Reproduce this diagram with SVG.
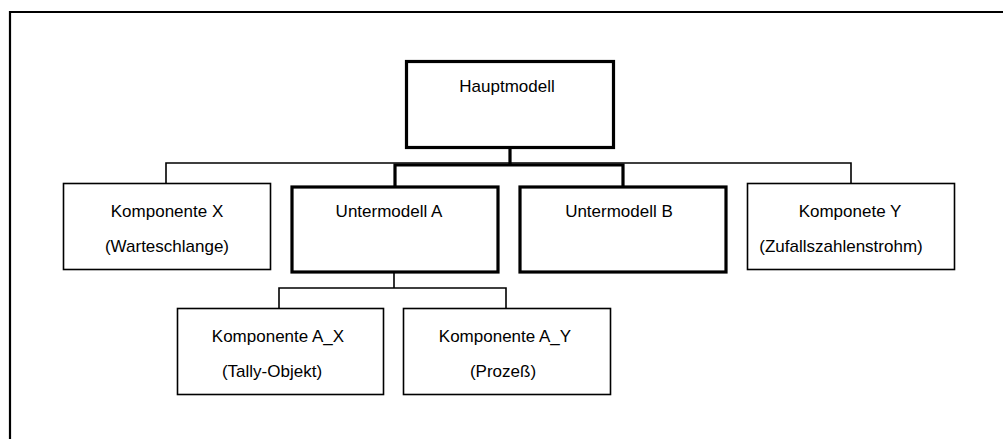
<svg xmlns="http://www.w3.org/2000/svg" width="1003" height="439" viewBox="0 0 1003 439">
<style>
text{font-family:"Liberation Sans",Arial,sans-serif;font-size:17px;fill:#000;text-anchor:middle}
.thin{fill:#fff;stroke:#000;stroke-width:1.6}
.thick{fill:#fff;stroke:#000;stroke-width:3.2}
.cthin{fill:none;stroke:#000;stroke-width:1.6}
.cthick{fill:none;stroke:#000;stroke-width:3.2}
</style>
<rect width="1003" height="439" fill="#fff"/>
<path d="M10,440 V12 H1003" fill="none" stroke="#000" stroke-width="2.2"/>
<g id="connectors">
<path class="cthin" d="M166,183 V163 H851 V183"/>
<path class="cthick" d="M510,149 V165 M395,186 V165 H623 V186"/>
<path class="cthin" d="M394,273 V288 M279,308 V288 H506 V308"/>
</g>
<g id="hauptmodell">
<rect class="thick" x="406.5" y="61.5" width="207" height="86"/>
<text x="507" y="92">Hauptmodell</text>
</g>
<g id="komponenteX">
<rect class="thin" x="63.5" y="183.5" width="207" height="86"/>
<text x="167" y="217">Komponente X</text>
<text x="167" y="252">(Warteschlange)</text>
</g>
<g id="untermodellA">
<rect class="thick" x="292" y="187" width="206" height="85"/>
<text x="389" y="217">Untermodell A</text>
</g>
<g id="untermodellB">
<rect class="thick" x="520" y="187" width="206" height="85"/>
<text x="619" y="217">Untermodell B</text>
</g>
<g id="komponeteY">
<rect class="thin" x="747.5" y="183.5" width="207" height="86"/>
<text x="850" y="217">Komponete Y</text>
<text x="841" y="252">(Zufallszahlenstrohm)</text>
</g>
<g id="komponenteAX">
<rect class="thin" x="177.5" y="308.5" width="206" height="86"/>
<text x="278" y="342">Komponente A_X</text>
<text x="272" y="377">(Tally-Objekt)</text>
</g>
<g id="komponenteAY">
<rect class="thin" x="403.5" y="308.5" width="207" height="86"/>
<text x="505" y="342">Komponente A_Y</text>
<text x="503" y="377">(Prozeß)</text>
</g>
</svg>
